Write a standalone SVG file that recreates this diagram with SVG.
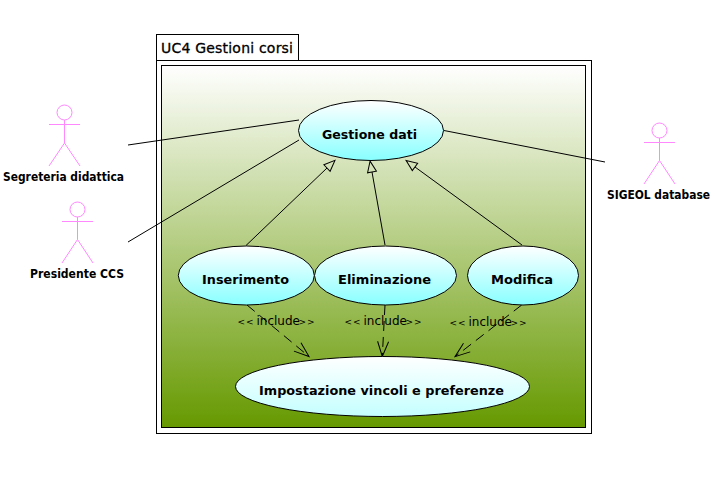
<svg xmlns="http://www.w3.org/2000/svg" width="715" height="480" viewBox="0 0 715 480">
<style>
text{font-family:"DejaVu Sans","Liberation Sans",sans-serif;fill:#000}
.n{font-size:13px;font-weight:bold}
.a{font-size:12px;font-weight:bold}
.i{font-size:12px}
.b{font-size:9px;letter-spacing:1px}
.frame{fill:#fff;stroke:#000;stroke-width:1}
.uc{stroke:#000;stroke-width:1;fill:url(#ug)}
.actor{fill:none;stroke:#f8f;stroke-width:1}
.l{fill:none;stroke:#000;stroke-width:1}
.d{stroke-dasharray:10 6;marker-end:url(#open)}
.g{marker-end:url(#tri)}
</style>
<defs>
<linearGradient id="bg" x1="0" y1="0" x2="0" y2="1"><stop offset="0" stop-color="#fff"/><stop offset="1" stop-color="#669900"/></linearGradient>
<linearGradient id="ug" x1="0" y1="0" x2="0" y2="1"><stop offset="0" stop-color="#fff"/><stop offset="1" stop-color="#88ffff"/></linearGradient>
<linearGradient id="ug2" x1="0" y1="0" x2="0" y2="1"><stop offset="0" stop-color="#fff"/><stop offset="1" stop-color="#c4ffff"/></linearGradient>
<marker id="tri" markerUnits="userSpaceOnUse" markerWidth="14" markerHeight="14" refX="1" refY="7" orient="auto"><path d="M1 2.500L12 7L1 11.500Z" fill="none" stroke="#000"/></marker>
<marker id="open" markerUnits="userSpaceOnUse" markerWidth="18" markerHeight="14" refX="16" refY="7" orient="auto"><path d="M1 1.500L16 7L1 12.500" fill="none" stroke="#000"/></marker>
</defs>
<g id="frame">
<rect class="frame" x="156.500" y="34.500" width="142" height="26"/>
<rect class="frame" x="156.500" y="60.500" width="435" height="373"/>
<rect x="161.500" y="65.500" width="424" height="362" fill="url(#bg)" stroke="#000"/>
<text x="161" y="53" font-size="14" stroke="#000" stroke-width=".3" textLength="132" lengthAdjust="spacing">UC4 Gestioni corsi</text>
</g>
<g id="connectors">
<path class="l" d="M128 145L299 120"/>
<path class="l" d="M128 242L299 140"/>
<path class="l" d="M444 130.500L605 162"/>
<path class="l g" d="M246 245.500L327 168"/>
<path class="l g" d="M385 245L372 172"/>
<path class="l g" d="M522 245L415 167"/>
<path class="l d" d="M247 305L309 356.500"/>
<path class="l d" d="M385 305L382.300 356.500"/>
<path class="l d" d="M521.700 305L455 356.700"/>
<text class="i" y="325"><tspan class="b" x="237.500">&lt;&lt;</tspan><tspan x="256.500">include</tspan><tspan class="b" x="298.500">&gt;&gt;</tspan></text>
<text class="i" y="324.500"><tspan class="b" x="344.500">&lt;&lt;</tspan><tspan x="363.500">include</tspan><tspan class="b" x="405.500">&gt;&gt;</tspan></text>
<text class="i" y="325.500"><tspan class="b" x="449.500">&lt;&lt;</tspan><tspan x="468.500">include</tspan><tspan class="b" x="510.500">&gt;&gt;</tspan></text>
</g>
<g id="gestione-dati"><ellipse class="uc" cx="371" cy="130.500" rx="72.500" ry="30"/><text class="n" x="322" y="139" textLength="95" lengthAdjust="spacingAndGlyphs">Gestione dati</text></g>
<g id="inserimento"><ellipse class="uc" cx="246.300" cy="275.500" rx="68" ry="29.500"/><text class="n" x="202" y="284" textLength="87" lengthAdjust="spacingAndGlyphs">Inserimento</text></g>
<g id="eliminazione"><ellipse class="uc" cx="385.500" cy="275.500" rx="71" ry="29.500"/><text class="n" x="338" y="284" textLength="93" lengthAdjust="spacingAndGlyphs">Eliminazione</text></g>
<g id="modifica"><ellipse class="uc" cx="523" cy="275.500" rx="55.500" ry="29.500"/><text class="n" x="491" y="284" textLength="62" lengthAdjust="spacingAndGlyphs">Modifica</text></g>
<g id="impostazione"><ellipse class="uc" style="fill:url(#ug2)" cx="382.500" cy="386.500" rx="147" ry="30"/><text class="n" x="259" y="395" textLength="245" lengthAdjust="spacingAndGlyphs">Impostazione vincoli e preferenze</text></g>
<g id="segreteria"><circle class="actor" cx="64.500" cy="112.500" r="7.500"/><path class="actor" d="M49 124.500H80M64.500 120V143L49 166M64.500 143L80 166"/><text class="a" x="3" y="181" textLength="121" lengthAdjust="spacingAndGlyphs">Segreteria didattica</text></g>
<g id="presidente"><circle class="actor" cx="77.500" cy="209.500" r="7.500"/><path class="actor" d="M62 221.500H93M77.500 217V239.500L62 263M77.500 239.500L93 263"/><text class="a" x="30" y="278" textLength="94" lengthAdjust="spacingAndGlyphs">Presidente CCS</text></g>
<g id="sigeol"><circle class="actor" cx="659.500" cy="130.500" r="7.500"/><path class="actor" d="M644 142.500H675M659.500 138V160.500L644 184M659.500 160.500L675 184"/><text class="a" x="607" y="199" textLength="103" lengthAdjust="spacingAndGlyphs">SIGEOL database</text></g>
</svg>
